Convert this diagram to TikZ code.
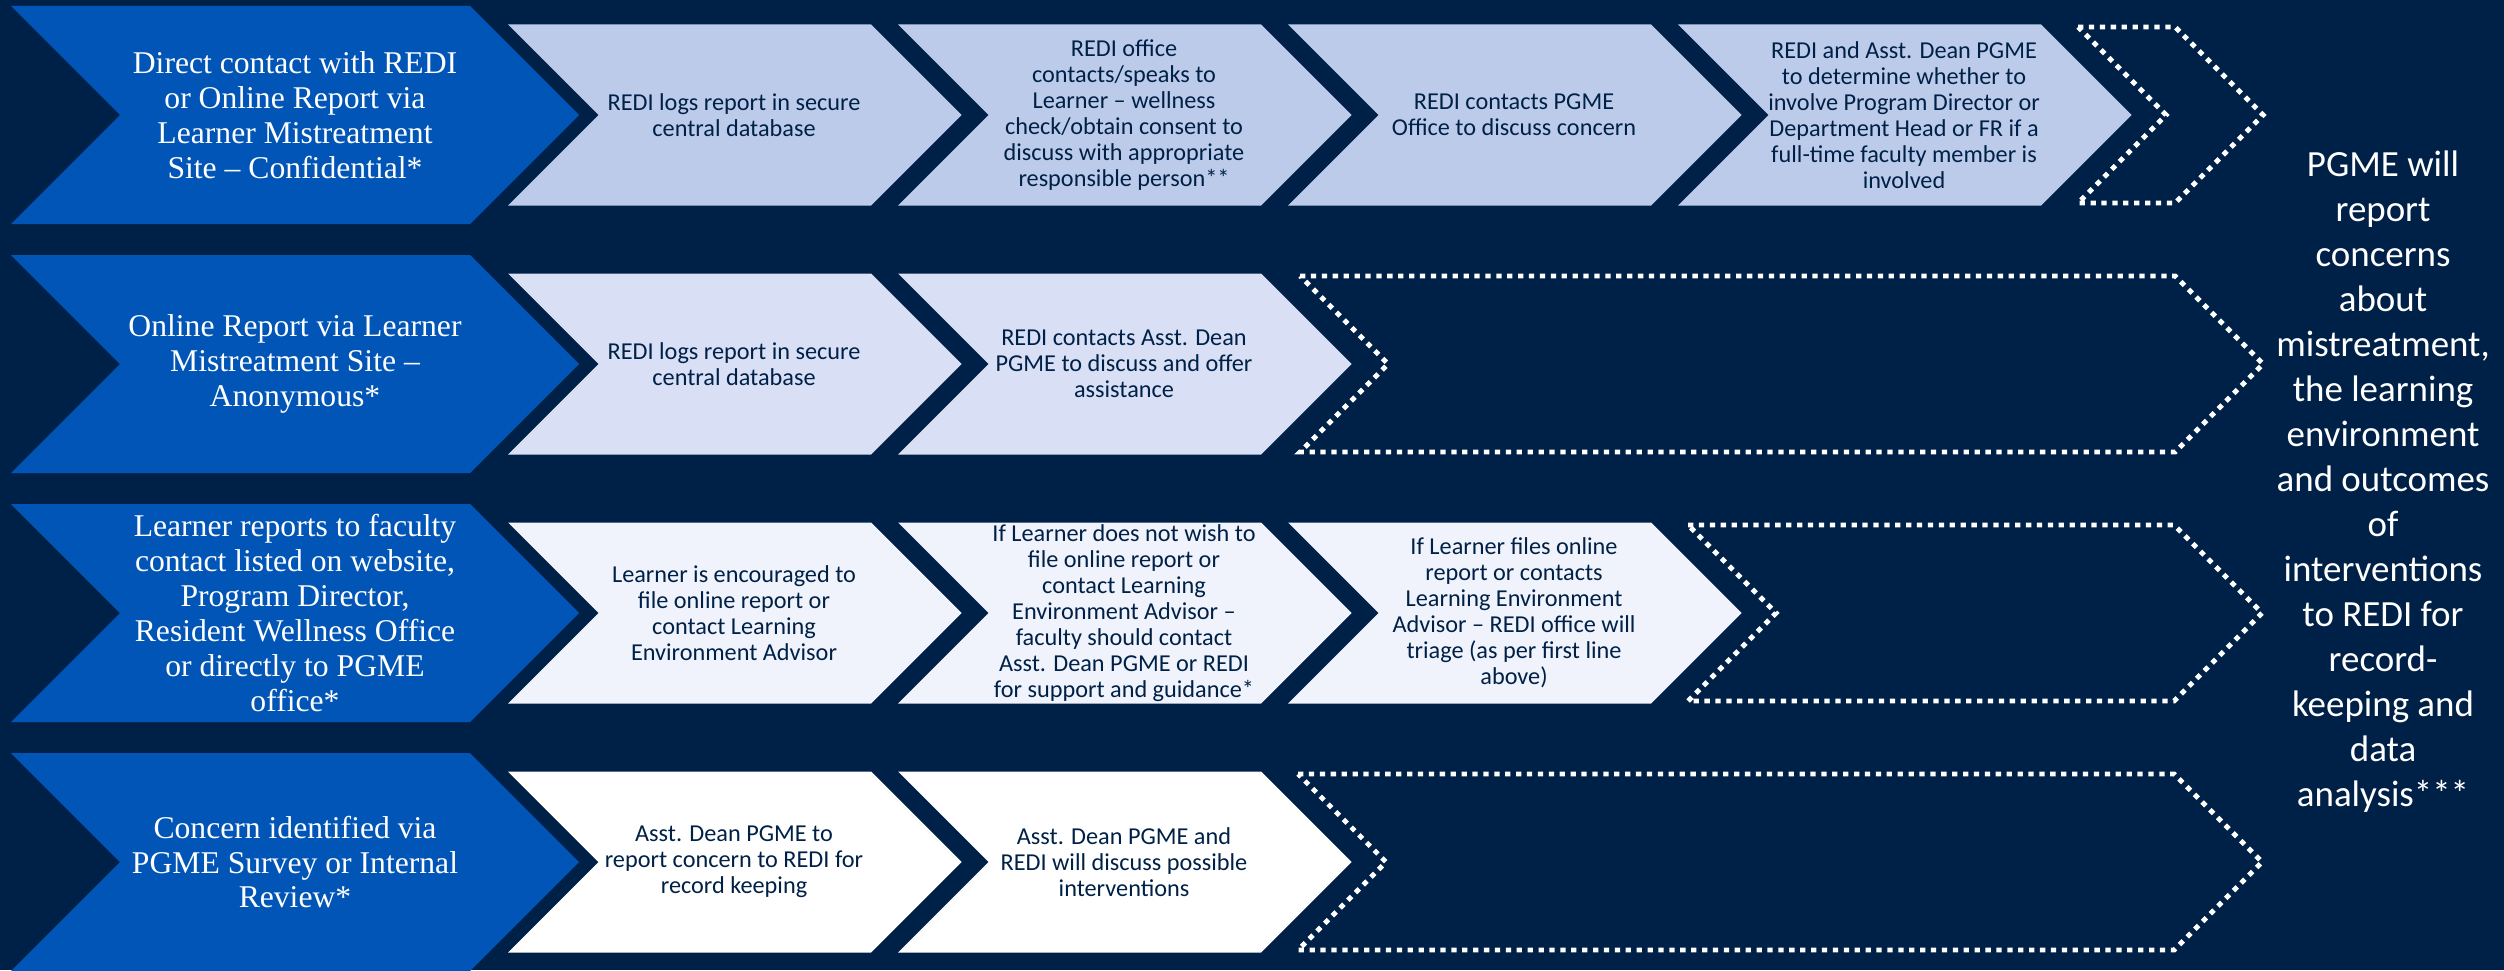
\documentclass[tikz,border=0pt]{standalone}
\usepackage{fontspec}
\setmainfont{Carlito}
\newfontfamily\srcfont{Liberation Serif}
\usepackage{xcolor}
\usepackage{tikz}

\definecolor{bgnavy}{HTML}{002147}
\definecolor{srcblue}{HTML}{0055B7}
\definecolor{shadeA}{HTML}{BDCBEB}
\definecolor{shadeB}{HTML}{D9DFF5}
\definecolor{shadeC}{HTML}{F0F3FB}
\definecolor{shadeD}{HTML}{FFFFFF}

% chevron: style, left x, top-right x, centre y, half height (45 degree sides)
\newcommand{\chevronpath}[5]{%
    \path[#1] ({#2},{#4-#5}) -- ({#3},{#4-#5}) -- ({#3+#5},{#4}) -- ({#3},{#4+#5})
        -- ({#2},{#4+#5}) -- ({#2+#5},{#4}) -- cycle;}

\begin{document}
\begin{tikzpicture}[
    x=0.01cm,
    y=-0.01cm,
    source/.style={
        fill=srcblue
    },
    dotbox/.style={
        draw=white,
        line width=1.4pt,
        dash pattern=on 1.5pt off 1.6pt
    },
    srctext/.style={
        align=center,
        text=white,
        font=\srcfont\fontsize{9}{9.9}\selectfont
    },
    steptext/.style={
        align=center,
        text=bgnavy,
        font=\fontsize{6.9}{7.4}\selectfont
    },
    outtext/.style={
        align=center,
        text=white,
        font=\fontsize{10.5}{12.8}\selectfont
    }
]

\useasboundingbox (0,0) rectangle (2504,970);
\fill[bgnavy] (0,0) rectangle (2504,970);

%---------------------------------------------------------------------
% Chevrons
%---------------------------------------------------------------------

\foreach \cy/\shade/\n in {115/shadeA/4, 364/shadeB/2, 613/shadeC/3, 862/shadeD/2} {
    \chevronpath{source}{11}{470}{\cy}{109}
    \foreach \k in {1,...,\n} {
        \pgfmathsetmacro\lx{508+390*(\k-1)}
        \pgfmathsetmacro\rx{\lx+363}
        \chevronpath{fill=\shade}{\lx}{\rx}{\cy}{90.5}
    }
}

\chevronpath{dotbox}{2078}{2175}{115}{88}
\chevronpath{dotbox}{1300}{2175}{364}{88}
\chevronpath{dotbox}{1688}{2174}{613}{88}
\chevronpath{dotbox}{1298}{2174}{862}{88}

%---------------------------------------------------------------------
% Row 1: confidential report
%---------------------------------------------------------------------

\node[srctext] (src1) at (295,115) {
    Direct contact with REDI\\
    or Online Report via\\
    Learner Mistreatment\\
    Site – Confidential*
};

\node[steptext] (r1a) at (734,115) {
    REDI logs report in secure\\
    central database
};

\node[steptext] (r1b) at (1124,115) {
    REDI office\\
    contacts/speaks to\\
    Learner – wellness\\
    check/obtain consent to\\
    discuss with appropriate\\
    responsible person**
};

\node[steptext] (r1c) at (1514,115) {
    REDI contacts PGME\\
    Office to discuss concern
};

\node[steptext] (r1d) at (1904,115) {
    REDI and Asst. Dean PGME\\
    to determine whether to\\
    involve Program Director or\\
    Department Head or FR if a\\
    full-time faculty member is\\
    involved
};

%---------------------------------------------------------------------
% Row 2: anonymous report
%---------------------------------------------------------------------

\node[srctext] (src2) at (295,364) {
    Online Report via Learner\\
    Mistreatment Site –\\
    Anonymous*
};

\node[steptext] (r2a) at (734,364) {
    REDI logs report in secure\\
    central database
};

\node[steptext] (r2b) at (1124,364) {
    REDI contacts Asst. Dean\\
    PGME to discuss and offer\\
    assistance
};

%---------------------------------------------------------------------
% Row 3: report to faculty
%---------------------------------------------------------------------

\node[srctext] (src3) at (295,613) {
    Learner reports to faculty\\
    contact listed on website,\\
    Program Director,\\
    Resident Wellness Office\\
    or directly to PGME\\
    office*
};

\node[steptext] (r3a) at (734,613) {
    Learner is encouraged to\\
    file online report or\\
    contact Learning\\
    Environment Advisor
};

\node[steptext] (r3b) at (1124,613) {
    If Learner does not wish to\\
    file online report or\\
    contact Learning\\
    Environment Advisor –\\
    faculty should contact\\
    Asst. Dean PGME or REDI\\
    for support and guidance*
};

\node[steptext] (r3c) at (1514,613) {
    If Learner files online\\
    report or contacts\\
    Learning Environment\\
    Advisor – REDI office will\\
    triage (as per first line\\
    above)
};

%---------------------------------------------------------------------
% Row 4: survey or review
%---------------------------------------------------------------------

\node[srctext] (src4) at (295,862) {
    Concern identified via\\
    PGME Survey or Internal\\
    Review*
};

\node[steptext] (r4a) at (734,862) {
    Asst. Dean PGME to\\
    report concern to REDI for\\
    record keeping
};

\node[steptext] (r4b) at (1124,862) {
    Asst. Dean PGME and\\
    REDI will discuss possible\\
    interventions
};

%---------------------------------------------------------------------
% Outcome
%---------------------------------------------------------------------

\node[outtext] (out) at (2383,482) {
    PGME will\\
    report\\
    concerns\\
    about\\
    mistreatment,\\
    the learning\\
    environment\\
    and outcomes\\
    of\\
    interventions\\
    to REDI for\\
    record-\\
    keeping and\\
    data\\
    analysis***
};

\end{tikzpicture}
\end{document}
